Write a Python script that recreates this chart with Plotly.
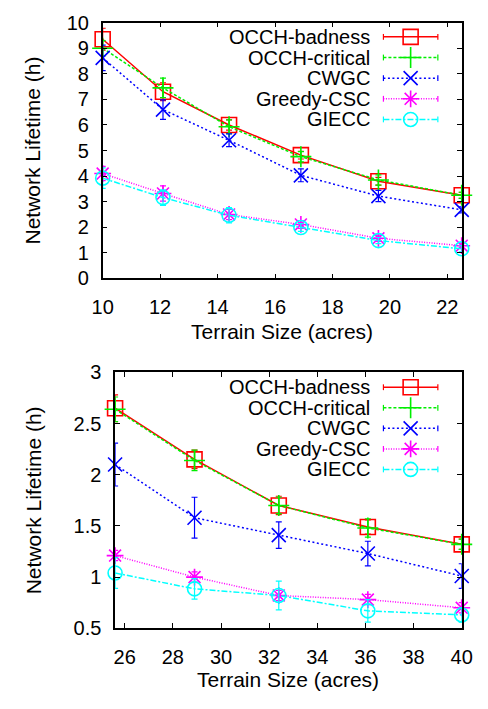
import plotly.graph_objects as go

# ---------------- data ----------------
names = ["OCCH-badness", "OCCH-critical", "CWGC", "Greedy-CSC", "GIECC"]

x_top = [10, 12.1, 14.4, 16.9, 19.6, 22.5]
top_badness = [9.35, 7.30, 6.00, 4.82, 3.80, 3.25]
top_critical = [9.00, 7.45, 5.93, 4.76, 3.85, 3.25]
top_cwgc = [8.62, 6.60, 5.40, 4.03, 3.22, 2.68]
top_greedy = [4.10, 3.32, 2.50, 2.11, 1.57, 1.28]
top_giecc = [3.92, 3.16, 2.47, 1.99, 1.48, 1.16]
top_badness_err = [0.43, 0.35, 0.20, 0.15, 0.15, 0.12]
top_critical_err = [0.30, 0.38, 0.27, 0.20, 0.20, 0.12]
top_cwgc_err = [0.50, 0.38, 0.25, 0.25, 0.22, 0.12]
top_greedy_err = [0.28, 0.30, 0.20, 0.15, 0.12, 0.10]
top_giecc_err = [0.40, 0.30, 0.30, 0.15, 0.12, 0.12]

x_bot = [25.6, 28.9, 32.4, 36.1, 40.0]
bot_badness = [2.65, 2.15, 1.70, 1.49, 1.32]
bot_critical = [2.64, 2.14, 1.70, 1.48, 1.32]
bot_cwgc = [2.10, 1.58, 1.41, 1.23, 1.01]
bot_greedy = [1.21, 1.00, 0.82, 0.78, 0.70]
bot_giecc = [1.04, 0.885, 0.82, 0.67, 0.63]
bot_badness_err = [0.13, 0.09, 0.09, 0.07, 0.05]
bot_critical_err = [0.12, 0.10, 0.08, 0.09, 0.05]
bot_cwgc_err = [0.21, 0.20, 0.13, 0.12, 0.12]
bot_greedy_err = [0.05, 0.05, 0.05, 0.05, 0.05]
bot_giecc_err = [0.15, 0.10, 0.14, 0.11, 0.07]

top_tick_x = [10, 12, 14, 16, 18, 20, 22]
bot_tick_x = [26, 28, 30, 32, 34, 36, 38, 40]

x_title = "Terrain Size (acres)"
y_title = "Network Lifetime (h)"

# ---------------- styles ----------------
W, H = 488, 709
FONT = "Liberation Sans, Arial, Helvetica, sans-serif"
colors = ["#ff0000", "#00ee00", "#0000ff", "#ff00ff", "#00ffff"]
dashes = ["solid", "3px,2px", "2px,2.5px", "1px,1.5px", "6px,2px,2px,2px"]
symbols = ["square-open", "cross-thin-open", "x-thin-open", "asterisk-open", "circle-open"]
msizes = [15, 15, 14, 14, 14]


def px(x):
    return x / W


def py(y):
    return 1 - y / H


top_vals = [top_badness, top_critical, top_cwgc, top_greedy, top_giecc]
top_errs = [top_badness_err, top_critical_err, top_cwgc_err, top_greedy_err, top_giecc_err]
bot_vals = [bot_badness, bot_critical, bot_cwgc, bot_greedy, bot_giecc]
bot_errs = [bot_badness_err, bot_critical_err, bot_cwgc_err, bot_greedy_err, bot_giecc_err]

fig = go.Figure()


def add_series(xs, ys, es, i, xa, ya):
    fig.add_trace(go.Scatter(
        x=xs, y=ys, xaxis=xa, yaxis=ya, mode="lines+markers", name=names[i],
        showlegend=False, cliponaxis=False,
        line=dict(color=colors[i], width=1.5, dash=dashes[i]),
        marker=dict(symbol=symbols[i], size=msizes[i], color=colors[i],
                    line=dict(color=colors[i], width=1.6)),
        error_y=dict(type="data", array=es, visible=True, color=colors[i],
                     thickness=1.2, width=3),
    ))


for i in range(5):
    add_series(x_top, top_vals[i], top_errs[i], i, "x", "y")
for i in range(5):
    add_series(x_bot, bot_vals[i], bot_errs[i], i, "x2", "y2")

# ---------------- custom gnuplot-style keys ----------------
annotations = []
for top_px, rows in [(12, [26.7, 48.0, 69.3, 90.6, 111.9]), (373, [388.3, 409.5, 430.7, 451.9, 473.1])]:
    for i, ry in enumerate(rows):
        fig.add_trace(go.Scatter(
            x=[390, 447], y=[ry, ry], xaxis="x3", yaxis="y3", mode="lines",
            showlegend=False, hoverinfo="skip", cliponaxis=False,
            line=dict(color=colors[i], width=1.5, dash=dashes[i]),
            error_y=dict(type="constant", value=3, visible=True, color=colors[i],
                         thickness=1.2, width=0),
        ))
        fig.add_trace(go.Scatter(
            x=[418.5], y=[ry], xaxis="x3", yaxis="y3", mode="markers",
            showlegend=False, hoverinfo="skip", cliponaxis=False,
            marker=dict(symbol=symbols[i], size=msizes[i], color=colors[i],
                        line=dict(color=colors[i], width=1.6)),
        ))
        annotations.append(dict(
            x=px(378), y=py(ry), xref="paper", yref="paper", xanchor="right",
            yanchor="middle", showarrow=False, text=names[i],
            font=dict(size=20, family=FONT, color="black")))

# axis titles
for (l, r, t, b, ty) in [(96, 472, 12, 276, 331), (109, 472, 373, 637, 690)]:
    annotations.append(dict(x=px((l + r) / 2), y=py(ty), xref="paper", yref="paper",
                            xanchor="center", yanchor="middle", showarrow=False,
                            text=x_title, font=dict(size=21, family=FONT, color="black")))
    annotations.append(dict(x=px(23), y=py((t + b) / 2), xref="paper", yref="paper",
                            xanchor="center", yanchor="middle", showarrow=False, textangle=-90,
                            text=y_title, font=dict(size=21, family=FONT, color="black")))

axis_common = dict(showline=True, linecolor="black", linewidth=1.5, mirror="allticks",
                   ticks="inside", ticklen=5, tickwidth=1, tickcolor="black",
                   showgrid=False, zeroline=False,
                   tickfont=dict(size=20, family=FONT, color="black"))

fig.update_layout(
    width=W, height=H, margin=dict(l=0, r=0, t=0, b=0),
    paper_bgcolor="white", plot_bgcolor="rgba(0,0,0,0)",
    showlegend=False, annotations=annotations,
    xaxis=dict(domain=[px(96), px(472)], range=[x_top[0], x_top[-1]], anchor="y",
               tickvals=top_tick_x, ticklabelstandoff=10, **axis_common),
    yaxis=dict(domain=[py(276), py(12)], range=[0, 10], dtick=1, tick0=0, anchor="x",
               ticklabelstandoff=8, **axis_common),
    xaxis2=dict(domain=[px(109), px(472)], range=[x_bot[0], x_bot[-1]], anchor="y2",
                tickvals=bot_tick_x, ticklabelstandoff=10, **axis_common),
    yaxis2=dict(domain=[py(637), py(373)], range=[0.5, 3], dtick=0.5, tick0=0.5, anchor="x2",
                ticklabelstandoff=8, **axis_common),
    xaxis3=dict(domain=[0, 1], range=[0, W], anchor="y3", visible=False, fixedrange=True),
    yaxis3=dict(domain=[0, 1], range=[H, 0], anchor="x3", visible=False, fixedrange=True),
)

fig.write_html("out.html")
